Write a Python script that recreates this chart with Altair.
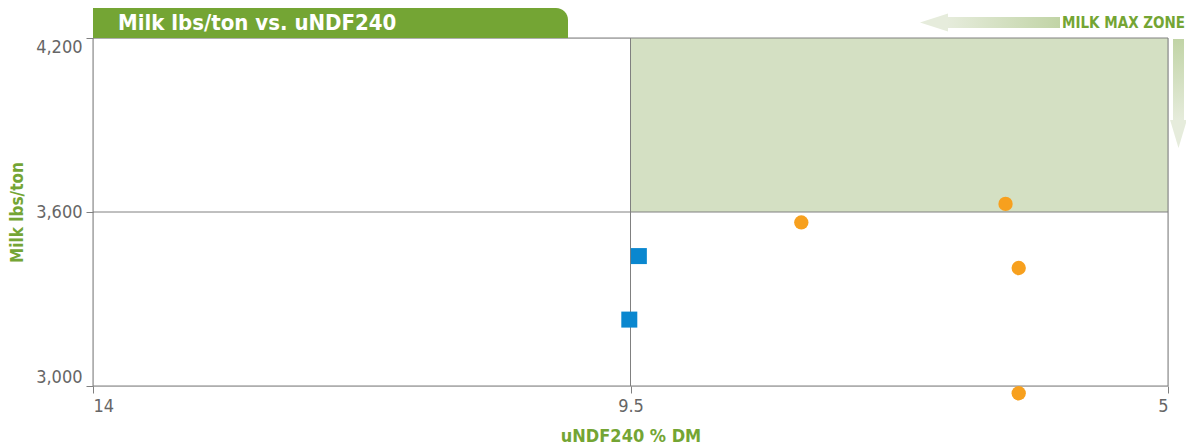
import altair as alt
import pandas as pd

# ---- data ----
series = ["A", "A", "B", "B", "B", "B"]
undf240 = [9.43, 9.51, 8.07, 6.36, 6.25, 6.25]
milk = [3448, 3229, 3564, 3628, 3407, 2975]

x_ticks = [14, 9.5, 5]
y_ticks = [3000, 3600, 4200]
zone_x = [9.5, 5]
zone_y = [3600, 4200]

W, H = 1075, 348
FONT = "Liberation Sans Narrow, DejaVu Sans Condensed, sans-serif"
GREEN = "#74a534"
ZONE = "#d4e0c3"
LINE = "#808080"
LABEL = "#666666"
BLUE = "#0a87cf"
ORANGE = "#f7a01e"
PALE = "#e6ecdc"
DARK = "#c1d4a6"

pts = pd.DataFrame({"series": series, "undf": undf240, "milk": milk})
zone = pd.DataFrame({"x1": [zone_x[0]], "x2": [zone_x[1]], "y1": [zone_y[0]], "y2": [zone_y[1]]})
vlines = pd.DataFrame({"v": x_ticks})
hlines = pd.DataFrame({"h": y_ticks})
one = alt.Data(values=[{}])

xs = alt.Scale(domain=[5, 14], reverse=True, nice=False, zero=False)
ys = alt.Scale(domain=[3000, 4200], nice=False, zero=False)

xaxis = alt.Axis(values=x_ticks, labelExpr="format(datum.value, '.1~f')", labelFlush=True,
                 grid=False, domain=False, ticks=True, tickSize=7, tickColor=LINE,
                 labelFont=FONT, labelFontSize=18, labelColor=LABEL, labelPadding=4,
                 title="uNDF240 % DM", titleFont=FONT, titleFontSize=18, titleFontWeight="bold",
                 titleColor=GREEN, titlePadding=12)
yaxis = alt.Axis(values=y_ticks, labelExpr="format(datum.value, ',')", labelFlush=True,
                 grid=False, domain=False, ticks=True, tickSize=7, tickColor=LINE,
                 labelFont=FONT, labelFontSize=18, labelColor=LABEL, labelPadding=4,
                 title="Milk lbs/ton", titleFont=FONT, titleFontSize=17, titleFontWeight="bold",
                 titleColor=GREEN, titlePadding=9)


def X(f):
    return alt.X(f, type="quantitative", scale=xs, axis=xaxis, title="uNDF240 % DM")


def Y(f):
    return alt.Y(f, type="quantitative", scale=ys, axis=yaxis, title="Milk lbs/ton")


zone_l = alt.Chart(zone).mark_rect(color=ZONE).encode(x=X("x1"), x2="x2", y=Y("y1"), y2="y2")
vrule = alt.Chart(vlines).mark_rule(color=LINE, strokeWidth=1).encode(x=X("v"))
hrule = alt.Chart(hlines).mark_rule(color=LINE, strokeWidth=1).encode(y=Y("h"))

squares = alt.Chart(pts).transform_filter(alt.datum.series == "A").mark_square(
    color=BLUE, size=256, opacity=1).encode(x=X("undf"), y=Y("milk"))
circles = alt.Chart(pts).transform_filter(alt.datum.series == "B").mark_circle(
    color=ORANGE, size=205, opacity=1).encode(x=X("undf"), y=Y("milk"))

banner = alt.Chart(one).mark_rect(color=GREEN, cornerRadiusTopRight=12).encode(
    x=alt.value(0), x2=alt.value(475), y=alt.value(-30), y2=alt.value(0))
banner_t = alt.Chart(one).mark_text(text="Milk lbs/ton vs. uNDF240", align="left", baseline="middle",
                                    font=FONT, fontSize=22, fontWeight="bold", color="white").encode(
    x=alt.value(25), y=alt.value(-15))

hgrad = alt.LinearGradient(gradient="linear", x1=0, x2=1, y1=0, y2=0,
                           stops=[alt.GradientStop(color=PALE, offset=0),
                                  alt.GradientStop(color=DARK, offset=1)])
vgrad = alt.LinearGradient(gradient="linear", x1=0, x2=0, y1=0, y2=1,
                           stops=[alt.GradientStop(color=DARK, offset=0),
                                  alt.GradientStop(color=PALE, offset=1)])

h_shaft = alt.Chart(one).mark_rect(color=hgrad).encode(
    x=alt.value(854), x2=alt.value(967), y=alt.value(-21), y2=alt.value(-10))
h_head = alt.Chart(one).mark_point(shape="M1,-0.64L-1,0L1,0.64Z", size=784, filled=True,
                                   color=PALE, opacity=1, strokeWidth=0).encode(
    x=alt.value(841), y=alt.value(-15.5))
v_shaft = alt.Chart(one).mark_rect(color=vgrad).encode(
    x=alt.value(1080), x2=alt.value(1091), y=alt.value(1), y2=alt.value(83))
v_head = alt.Chart(one).mark_point(shape="M-0.6,-1L0,1L0.6,-1Z", size=784, filled=True,
                                   color=PALE, opacity=1, strokeWidth=0).encode(
    x=alt.value(1085.5), y=alt.value(96))
zone_t = alt.Chart(one).mark_text(text="MILK MAX ZONE", align="right", baseline="middle",
                                  font=FONT, fontSize=15, fontWeight="bold", color=GREEN).encode(
    x=alt.value(1092), y=alt.value(-15))

chart = alt.layer(zone_l, vrule, hrule, squares, circles, banner, banner_t,
                  h_shaft, h_head, v_shaft, v_head, zone_t).properties(
    width=W, height=H,
    autosize=alt.AutoSizeParams(type="none"),
    padding={"left": 85, "top": 30, "right": 18, "bottom": 60},
).configure_view(stroke=None).configure(background="white")

chart.save("out.html", embed_options={"renderer": "svg", "actions": False})
